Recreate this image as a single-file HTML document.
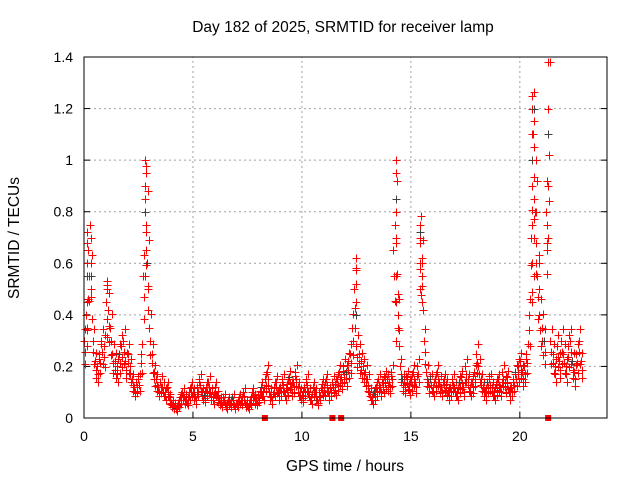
<!DOCTYPE html>
<html><head><meta charset="utf-8"><style>
body{margin:0;background:#fff}
svg text{font-family:"Liberation Sans",sans-serif;font-size:14px;fill:#000}
svg text.big{font-size:15.5px}
</style></head><body>
<svg id="chart" width="640" height="480" xmlns="http://www.w3.org/2000/svg">
<text class="big" x="343" y="32" text-anchor="middle">Day 182 of 2025, SRMTID for receiver lamp</text>
<text class="big" x="345" y="471" text-anchor="middle">GPS time / hours</text>
<text class="big" x="19" y="238" text-anchor="middle" transform="rotate(-90 19 238)">SRMTID / TECUs</text>
<g id="grid"></g><g id="ticks"></g><g id="marks"></g>
<rect x="84" y="57" width="523" height="361" fill="none" stroke="#000" stroke-width="1"/>
</svg>
<script>
const xTicks=[0,5,10,15,20];
const yTicks=[0,0.2,0.4,0.6,0.8,1,1.2,1.4];
const yTickLabels=["0","0.2","0.4","0.6","0.8","1","1.2","1.4"];
const baseStart=0, baseStep=0.1;
const baseValues=[0.30,0.40,0.65,0.55,0.30,0.22,0.20,0.25,0.30,0.28,
0.45,0.42,0.35,0.25,0.22,0.20,0.25,0.28,0.30,0.22,
0.25,0.20,0.15,0.12,0.14,0.15,0.25,0.55,0.85,0.60,
0.35,0.25,0.18,0.15,0.12,0.14,0.12,0.10,0.12,0.08,
0.06,0.05,0.04,0.06,0.08,0.10,0.08,0.07,0.10,0.12,
0.10,0.08,0.12,0.15,0.10,0.09,0.12,0.14,0.10,0.08,
0.12,0.09,0.07,0.06,0.08,0.05,0.07,0.06,0.08,0.05,
0.06,0.08,0.07,0.10,0.06,0.05,0.07,0.10,0.08,0.07,
0.09,0.12,0.10,0.15,0.18,0.10,0.08,0.12,0.14,0.10,
0.12,0.15,0.10,0.13,0.16,0.12,0.14,0.18,0.12,0.10,
0.09,0.12,0.15,0.10,0.08,0.12,0.10,0.07,0.10,0.13,
0.12,0.15,0.10,0.12,0.14,0.13,0.15,0.18,0.16,0.20,
0.18,0.22,0.25,0.35,0.50,0.28,0.25,0.22,0.20,0.18,
0.15,0.10,0.08,0.10,0.12,0.15,0.12,0.14,0.16,0.15,
0.14,0.18,0.65,0.80,0.40,0.20,0.15,0.14,0.16,0.13,
0.15,0.18,0.14,0.20,0.68,0.60,0.30,0.18,0.14,0.15,
0.12,0.15,0.18,0.14,0.12,0.15,0.13,0.10,0.12,0.15,
0.12,0.10,0.14,0.16,0.12,0.20,0.15,0.12,0.14,0.18,
0.25,0.20,0.15,0.12,0.10,0.14,0.15,0.12,0.10,0.13,
0.15,0.12,0.18,0.14,0.16,0.10,0.12,0.15,0.18,0.20,
0.22,0.18,0.20,0.25,0.40,0.70,1.10,0.80,0.55,0.40,
0.35,0.30,0.80,1.20,0.30,0.25,0.20,0.28,0.22,0.30,
0.25,0.20,0.28,0.30,0.22,0.18,0.25,0.30,0.22];
const spikeTimes=[0.15,0.15,0.15,0.15,0.15,0.15,0.3,0.3,0.3,1.05,1.05,
2.8,2.8,2.8,2.8,2.85,2.85,2.85,2.95,2.95,
12.5,12.5,12.5,12.5,12.5,
14.3,14.3,14.3,14.3,14.3,14.3,14.3,14.4,14.4,14.4,
15.4,15.4,15.4,15.4,15.4,15.5,15.5,15.5,
20.55,20.55,20.55,20.55,20.55,20.55,20.55,20.55,20.65,20.65,20.65,20.65,20.65,20.65,20.75,20.75,20.75,20.9,20.9,20.9,
21.3,21.3,21.3,21.3,21.3,21.25,21.25];
const spikeValues=[0.35,0.45,0.55,0.6,0.68,0.72,0.5,0.6,0.7,0.5,0.53,
0.8,0.9,1.0,0.55,0.65,0.75,0.95,0.88,0.5,
0.4,0.45,0.52,0.58,0.62,
0.3,0.45,0.55,0.7,0.85,0.95,1.0,0.35,0.4,0.48,
0.5,0.6,0.7,0.72,0.75,0.45,0.55,0.62,
0.45,0.6,0.75,0.9,1.0,1.1,1.2,1.25,0.55,0.7,0.85,1.05,1.15,1.2,0.6,0.8,1.0,0.4,0.5,0.6,
0.7,0.9,1.1,1.2,1.38,0.65,0.75];
const floorTimes=[8.3,11.4,11.8,21.3];
const X0=84,X1=607,Y0=418,Y1=57,XMAX=24,YMAX=1.4;
const xs=t=>X0+(t/XMAX)*(X1-X0);
const ys=v=>Y0-(v/YMAX)*(Y0-Y1);
const NS="http://www.w3.org/2000/svg";
const grid=document.getElementById('grid'),ticks=document.getElementById('ticks'),marks=document.getElementById('marks');
function mk(tag,attrs,parent){const e=document.createElementNS(NS,tag);for(const k in attrs)e.setAttribute(k,attrs[k]);parent.appendChild(e);return e;}
xTicks.forEach(t=>{const x=xs(t);
 if(t>0){const g=mk('line',{x1:x,x2:x,y1:Y0,y2:Y1,stroke:'#a0a0a0','stroke-dasharray':'2,3'},grid);
 
 }
 const l=mk('text',{x:x,y:Y0+23,'text-anchor':'middle'},ticks);l.textContent=t;
 
 
 mk('line',{x1:x,x2:x,y1:Y0,y2:Y0-6,stroke:'#000'},ticks);});
yTicks.forEach((v,i)=>{const y=ys(v);
 if(v>0&&v<YMAX){const g=mk('line',{x1:X0,x2:X1,y1:y,y2:y,stroke:'#a0a0a0','stroke-dasharray':'2,3'},grid);
 
 }
 const l=mk('text',{x:X0-11,y:y+5,'text-anchor':'end'},ticks);l.textContent=yTickLabels[i];
 
 
 mk('line',{x1:X0,x2:X0+6,y1:y,y2:y,stroke:'#000'},ticks);mk('line',{x1:X1,x2:X1-6,y1:y,y2:y,stroke:'#000'},ticks);});
function plus(t,v,col){const x=Math.round(xs(t))+0.5,y=Math.round(ys(v))+0.5;
 const p=mk('path',{d:`M${x-4} ${y}H${x+4}M${x} ${y-4}V${y+4}`,stroke:col,'stroke-width':1,fill:'none'},marks);
 
 }
baseValues.forEach((v,i)=>{const t=baseStart+i*baseStep;
 plus(t,v,i%13===3?'#404040':'#ff0000');
 plus(t+0.033,v*0.85,'#ff0000');
 plus(t+0.066,v*1.15,'#ff0000');
 plus(t+0.05,v*0.7,'#ff0000');});
spikeTimes.forEach((t,i)=>plus(t,spikeValues[i],i%9===2?'#404040':'#ff0000'));
floorTimes.forEach(t=>{const r=mk('rect',{x:xs(t)-3,y:Y0-3,width:6,height:6,fill:'#ff0000'},marks);
 
 });
</script>
</body></html>
